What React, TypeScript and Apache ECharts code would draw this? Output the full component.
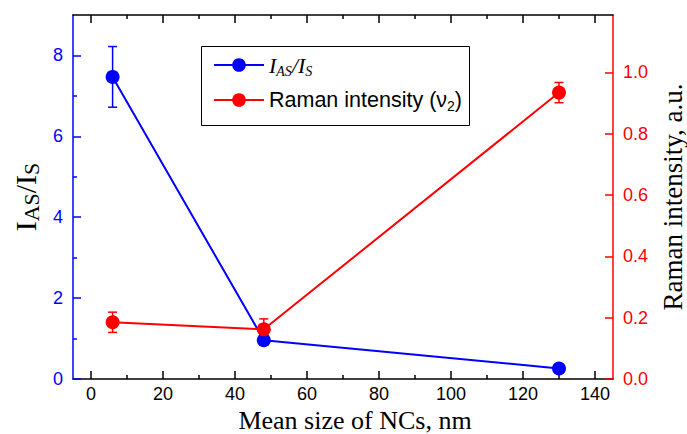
import React, { useEffect, useRef } from "react";
import * as echarts from "echarts";

const sizes = [6, 48, 130];
const ratioValues = [7.47, 0.96, 0.26];
const ratioErrors = [0.75, 0, 0];
const ramanValues = [0.185, 0.162, 0.934];
const ramanErrors = [0.033, 0.034, 0.033];
const xMajorTicks = [0, 20, 40, 60, 80, 100, 120, 140];
const xMinorTicks = [10, 30, 50, 70, 90, 110, 130];
const leftMajorTicks = [0, 2, 4, 6, 8];
const leftMinorTicks = [1, 3, 5, 7];
const rightMajorTicks = [0, 0.2, 0.4, 0.6, 0.8, 1.0];

const BLUE = "#0000ff";
const RED = "#ff0000";
const SANS = "Liberation Sans, Arial, sans-serif";
const SERIF = "Liberation Serif, Times New Roman, serif";

function errorSeries(xs: number[], ys: number[], errs: number[], yAxisIndex: number, color: string) {
  return {
    type: "custom",
    xAxisIndex: 0,
    yAxisIndex,
    z: 1,
    silent: true,
    data: xs.map((x, i) => [x, ys[i] - errs[i], ys[i] + errs[i]]),
    renderItem: (_params: any, api: any) => {
      const x = api.value(0);
      const lo = api.value(1);
      const hi = api.value(2);
      if (hi - lo <= 0) return null;
      const top = api.coord([x, hi]);
      const bot = api.coord([x, lo]);
      const w = 4.5;
      const style = { stroke: color, lineWidth: 1.5 };
      return {
        type: "group",
        children: [
          { type: "line", shape: { x1: top[0], y1: top[1], x2: bot[0], y2: bot[1] }, style },
          { type: "line", shape: { x1: top[0] - w, y1: top[1], x2: top[0] + w, y2: top[1] }, style },
          { type: "line", shape: { x1: bot[0] - w, y1: bot[1], x2: bot[0] + w, y2: bot[1] }, style },
        ],
      };
    },
  };
}

export default function App() {
  const ref = useRef<HTMLDivElement>(null);
  useEffect(() => {
    if (!ref.current) return;
    const chart = echarts.init(ref.current, undefined, { renderer: "svg" });
    const xBase = {
      type: "value",
      min: -5,
      max: 145,
      splitLine: { show: false },
    };
    const tickStyle = (c: string) => ({ color: c, width: 1.5 });
    chart.setOption({
      animation: false,
      backgroundColor: "#ffffff",
      grid: { left: 73, right: 74, top: 15, bottom: 55, containLabel: false, outerBoundsMode: "none" },
      graphic: [
        {
          type: "rect",
          z: 3,
          shape: { x: 201.5, y: 46.5, width: 268, height: 79 },
          style: { fill: "#ffffff", stroke: "#000000", lineWidth: 1 },
        },
      ],
      legend: {
        show: true,
        z: 10,
        orient: "vertical",
        left: 201,
        top: 46,
        padding: [6, 4, 11, 12],
        itemGap: 9,
        itemWidth: 50,
        itemHeight: 17,
        itemTextGap: 6,
        data: ["IAS/IS", "Raman intensity (ν2)"],
        formatter: (name: string) =>
          name === "IAS/IS"
            ? "{it|I}{sub|AS}{it|/I}{sub|S}"
            : "{r|Raman intensity (ν}{rs|2}{r|)}",
        textStyle: {
          color: "#000",
          lineHeight: 26,
          rich: {
            it: { fontFamily: SERIF, fontStyle: "italic", fontSize: 22, lineHeight: 26, color: "#000" },
            sub: { fontFamily: SERIF, fontStyle: "italic", fontSize: 14, lineHeight: 26, verticalAlign: "bottom", color: "#000" },
            r: { fontFamily: SANS, fontSize: 21.5, lineHeight: 26, color: "#000" },
            rs: { fontFamily: SANS, fontSize: 14, lineHeight: 26, verticalAlign: "bottom", color: "#000" },
          },
        },
      },
      xAxis: [
        {
          ...xBase,
          position: "bottom",
          axisLine: { show: true, onZero: false, lineStyle: { color: "#000", width: 1.5 } },
          axisTick: { show: true, inside: true, length: 8, lineStyle: tickStyle("#000"), customValues: xMajorTicks },
          axisLabel: { show: true, customValues: xMajorTicks, fontFamily: SANS, fontSize: 18, color: "#000", margin: 6 },
          name: "Mean size of NCs, nm",
          nameLocation: "middle",
          nameGap: 28,
          nameTextStyle: { fontFamily: SERIF, fontSize: 26, color: "#000", padding: [0, 0, 0, 24] },
        },
        {
          ...xBase,
          position: "bottom",
          axisLine: { show: false, onZero: false },
          axisTick: { show: true, inside: true, length: 4, lineStyle: tickStyle("#000"), customValues: xMinorTicks },
          axisLabel: { show: false },
        },
        {
          ...xBase,
          position: "top",
          axisLine: { show: true, onZero: false, lineStyle: { color: "#000", width: 1.5 } },
          axisTick: { show: true, inside: true, length: 8, lineStyle: tickStyle("#000"), customValues: xMajorTicks },
          axisLabel: { show: false },
        },
        {
          ...xBase,
          position: "top",
          axisLine: { show: false, onZero: false },
          axisTick: { show: true, inside: true, length: 4, lineStyle: tickStyle("#000"), customValues: xMinorTicks },
          axisLabel: { show: false },
        },
      ],
      yAxis: [
        {
          type: "value",
          position: "left",
          min: 0,
          max: 9,
          splitLine: { show: false },
          axisLine: { show: true, onZero: false, lineStyle: { color: BLUE, width: 1.5 } },
          axisTick: { show: true, inside: true, length: 8, lineStyle: tickStyle(BLUE), customValues: leftMajorTicks },
          axisLabel: { fontFamily: SANS, fontSize: 18, color: BLUE, margin: 10, customValues: leftMajorTicks },
          name: "{m|I}{s|AS}{m|/I}{s|S}",
          nameLocation: "middle",
          nameRotate: 90,
          nameGap: 27,
          nameTextStyle: {
            color: "#000",
            rich: {
              m: { fontFamily: SERIF, fontSize: 30, lineHeight: 34, color: "#000" },
              s: { fontFamily: SERIF, fontSize: 22, lineHeight: 34, verticalAlign: "bottom", color: "#000" },
            },
          },
        },
        {
          type: "value",
          position: "right",
          min: 0,
          max: 1.187,
          splitLine: { show: false },
          axisLine: { show: true, onZero: false, lineStyle: { color: RED, width: 1.5 } },
          axisTick: { show: true, inside: true, length: 8, lineStyle: tickStyle(RED), customValues: rightMajorTicks },
          axisLabel: {
            fontFamily: SANS,
            fontSize: 18,
            color: RED,
            margin: 10,
            customValues: rightMajorTicks,
            formatter: (v: number) => v.toFixed(1),
          },
          name: "Raman intensity, a.u.",
          nameLocation: "middle",
          nameRotate: 90,
          nameGap: 34,
          nameTextStyle: { fontFamily: SERIF, fontSize: 27, lineHeight: 28, color: "#000" },
        },
        {
          type: "value",
          position: "left",
          min: 0,
          max: 9,
          splitLine: { show: false },
          axisLine: { show: false, onZero: false },
          axisTick: { show: true, inside: true, length: 4, lineStyle: tickStyle(BLUE), customValues: leftMinorTicks },
          axisLabel: { show: false },
        },
      ],
      series: [
        errorSeries(sizes, ratioValues, ratioErrors, 0, BLUE),
        {
          name: "IAS/IS",
          type: "line",
          xAxisIndex: 0,
          yAxisIndex: 0,
          z: 2,
          data: sizes.map((x, i) => [x, ratioValues[i]]),
          symbol: "circle",
          symbolSize: 14,
          itemStyle: { color: BLUE },
          lineStyle: { color: BLUE, width: 2 },
        },
        errorSeries(sizes, ramanValues, ramanErrors, 1, RED),
        {
          name: "Raman intensity (ν2)",
          type: "line",
          xAxisIndex: 0,
          yAxisIndex: 1,
          z: 3,
          data: sizes.map((x, i) => [x, ramanValues[i]]),
          symbol: "circle",
          symbolSize: 14,
          itemStyle: { color: RED },
          lineStyle: { color: RED, width: 2 },
        },
      ],
    });
    return () => chart.dispose();
  }, []);
  return (
    <div
      ref={ref}
      style={{ position: "absolute", left: 0, top: 0, width: 687, height: 434, background: "#fff" }}
    />
  );
}
